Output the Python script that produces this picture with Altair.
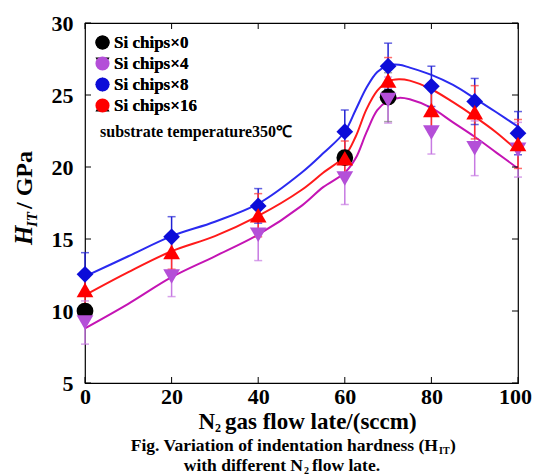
import altair as alt
import pandas as pd

FONT = "'Liberation Serif', 'Times New Roman', Times, serif"

series_names = ["Si chips×0", "Si chips×4", "Si chips×8", "Si chips×16"]
marker_colors = ["#000000", "#b44fd8", "#0c0cd8", "#ff0000"]
marker_shapes = ["circle", "triangle-down", "diamond", "triangle-up"]
errbar_colors = ["#808080", "#c77ae2", "#2222d4", "#ff3030"]

# Si chips x0 (only three visible points)
flow_0 = [0, 60, 70]
hard_0 = [10.0, 20.65, 24.85]
err_0 = [0.0, 0.0, 1.7]

flow = [0, 20, 40, 60, 70, 80, 90, 100]
hard_4 = [9.2, 12.4, 15.3, 19.2, 24.65, 22.4, 21.3, 21.2]
err_4 = [1.5, 1.4, 1.8, 1.8, 1.6, 1.5, 1.9, 1.9]
hard_8 = [12.55, 15.15, 17.3, 22.45, 27.0, 25.6, 24.55, 22.35]
err_8 = [1.5, 1.4, 1.2, 1.5, 1.6, 1.4, 1.6, 1.5]
hard_16 = [11.45, 14.1, 16.65, 20.6, 26.0, 23.95, 23.8, 21.6]
err_16 = [1.0, 1.2, 1.5, 1.2, 1.6, 1.5, 1.85, 1.7]

# fitted curves
curve_x = [0, 10, 20, 30, 40, 50, 55, 60, 62.5, 65, 67.5, 70, 72.5, 75, 80, 85, 90, 95, 100]
curve_4 = [8.8, 10.5, 12.35, 13.8, 15.3, 17.3, 18.6, 19.6, 20.6, 22.4, 23.95, 24.6, 24.8, 24.7, 24.1, 23.1, 22.1, 21.0, 19.9]
curve_8 = [12.4, 13.8, 15.2, 16.2, 17.45, 19.6, 20.95, 22.45, 23.96, 25.5, 26.6, 27.05, 27.1, 26.9, 26.4, 25.7, 24.77, 23.8, 22.8]
curve_16 = [11.1, 12.7, 14.15, 15.2, 16.6, 18.4, 19.6, 20.76, 22.1, 24.0, 25.3, 25.95, 26.1, 26.0, 25.4, 24.5, 23.5, 22.4, 21.1]
curve_names = ["c4", "c8", "c16"]
curve_colors = ["#c414b4", "#2a2af0", "#ff1a1a"]

x_ticks = [0, 20, 40, 60, 80, 100]
y_ticks = [5, 10, 15, 20, 25, 30]

# ---- tables ----
rows = []
for name, xs, ys, es in [
    (series_names[0], flow_0, hard_0, err_0),
    (series_names[1], flow, hard_4, err_4),
    (series_names[2], flow, hard_8, err_8),
    (series_names[3], flow, hard_16, err_16),
]:
    for xv, yv, ev in zip(xs, ys, es):
        rows.append({"flow": xv, "hard": yv, "lo": yv - ev, "hi": yv + ev,
                     "series": name, "ord": series_names.index(name)})
pts = pd.DataFrame(rows)

caps = pd.concat([
    pts[["flow", "series"]].assign(cap=pts["lo"]),
    pts[["flow", "series"]].assign(cap=pts["hi"]),
])

crows = []
for name, ys in zip(curve_names, [curve_4, curve_8, curve_16]):
    for xv, yv in zip(curve_x, ys):
        crows.append({"flow": xv, "hard": yv, "curve": name})
curves = pd.DataFrame(crows)

W, H = 433, 360
TICK = 6

xscale = alt.Scale(domain=[0, 100], nice=False, zero=False)
yscale = alt.Scale(domain=[5, 30], nice=False, zero=False)

xaxis = alt.Axis(values=x_ticks, title=None, ticks=False, domain=False, grid=False,
                 labelFont=FONT, labelFontWeight="bold", labelFontSize=22,
                 labelColor="black", labelPadding=3, labelFlush=False,
                 labelOffset=alt.condition("datum.value == 100", alt.value(-3), alt.value(0)))
yaxis = alt.Axis(values=y_ticks, title=None, ticks=False, domain=False, grid=False,
                 labelFont=FONT, labelFontWeight="bold", labelFontSize=22,
                 labelColor="black", labelPadding=12, labelFlush=False)

X = alt.X("flow:Q", scale=xscale, axis=xaxis)
Y = alt.Y("hard:Q", scale=yscale, axis=yaxis)

# inward ticks on all four sides
xt = pd.DataFrame({"v": x_ticks})
yt = pd.DataFrame({"v": y_ticks})
tick_layers = [
    alt.Chart(xt).mark_rule(color="black", strokeWidth=1).encode(
        x=alt.X("v:Q", scale=xscale), y=alt.value(H), y2=alt.value(H - TICK)),
    alt.Chart(xt).mark_rule(color="black", strokeWidth=1).encode(
        x=alt.X("v:Q", scale=xscale), y=alt.value(0), y2=alt.value(TICK)),
    alt.Chart(yt).mark_rule(color="black", strokeWidth=1).encode(
        y=alt.Y("v:Q", scale=yscale), x=alt.value(0), x2=alt.value(TICK)),
    alt.Chart(yt).mark_rule(color="black", strokeWidth=1).encode(
        y=alt.Y("v:Q", scale=yscale), x=alt.value(W - TICK), x2=alt.value(W)),
]

lines = alt.Chart(curves).mark_line(strokeWidth=2, interpolate="catmull-rom").encode(
    x=X, y=Y,
    color=alt.Color("curve:N", scale=alt.Scale(domain=curve_names, range=curve_colors), legend=None),
)

ecol = alt.Color("series:N", scale=alt.Scale(domain=series_names, range=errbar_colors), legend=None)
ebars = alt.Chart(pts).mark_rule(strokeWidth=1.5).encode(
    x=alt.X("flow:Q", scale=xscale), y=alt.Y("lo:Q", scale=yscale), y2="hi:Q", color=ecol,
)
ecaps = alt.Chart(caps).mark_tick(orient="horizontal", size=8, thickness=1.5).encode(
    x=alt.X("flow:Q", scale=xscale), y=alt.Y("cap:Q", scale=yscale), color=ecol,
)

leg = alt.Legend(title=None, orient="none", legendX=9, legendY=11,
                 labelFont=FONT, labelFontWeight="bold", labelFontSize=17,
                 labelColor="black", symbolSize=200, rowPadding=3, labelOffset=3,
                 symbolStrokeWidth=0, symbolOpacity=1)
points = alt.Chart(pts).mark_point(filled=True, size=280, opacity=1).encode(
    x=alt.X("flow:Q", scale=xscale), y=alt.Y("hard:Q", scale=yscale),
    color=alt.Color("series:N", scale=alt.Scale(domain=series_names, range=marker_colors), legend=leg),
    shape=alt.Shape("series:N", scale=alt.Scale(domain=series_names, range=marker_shapes), legend=leg),
    order=alt.Order("ord:Q"),
)


def txt(s, x, y, size, align="left", angle=0, italic=False, baseline="alphabetic"):
    return alt.Chart(pd.DataFrame({"t": [s]})).mark_text(
        font=FONT, fontWeight="bold", fontSize=size, align=align, baseline=baseline,
        angle=angle, fontStyle="italic" if italic else "normal", color="black",
    ).encode(text="t:N", x=alt.value(x), y=alt.value(y))


texts = [
    txt("substrate temperature350℃", 15, 114, 16),
    # x title
    txt("N", 130, 406, 23, align="right"),
    txt("2", 130, 409, 12),
    txt("gas flow late/(sccm)", 140, 406, 23),
    # caption
    txt("Fig. Variation of indentation hardness (H", 353, 428, 17.5, align="right"),
    txt("IT", 354, 431, 10),
    txt(")", 365, 428, 17.5),
    txt("with different N", 218, 448, 17.5, align="right"),
    txt("2", 219, 451, 10),
    txt("flow late.", 227, 448, 17.5),
    # y title (rotated, reads bottom to top)
    txt("H", -53, 222, 25, angle=270, italic=True),
    txt("IT", -48, 204, 15, angle=270, italic=True),
    txt("/ GPa", -53, 186, 24, angle=270),
]

chart = alt.layer(lines, ebars, ecaps, points, *tick_layers, *texts).resolve_scale(
    color="independent"
).properties(
    width=W, height=H,
    autosize=alt.AutoSizeParams(type="none"),
    padding={"left": 77, "top": 15, "right": 14, "bottom": 92},
).configure_view(stroke="black", strokeWidth=1.2)

chart.save("out.html", embed_options={"renderer": "svg", "actions": False})
